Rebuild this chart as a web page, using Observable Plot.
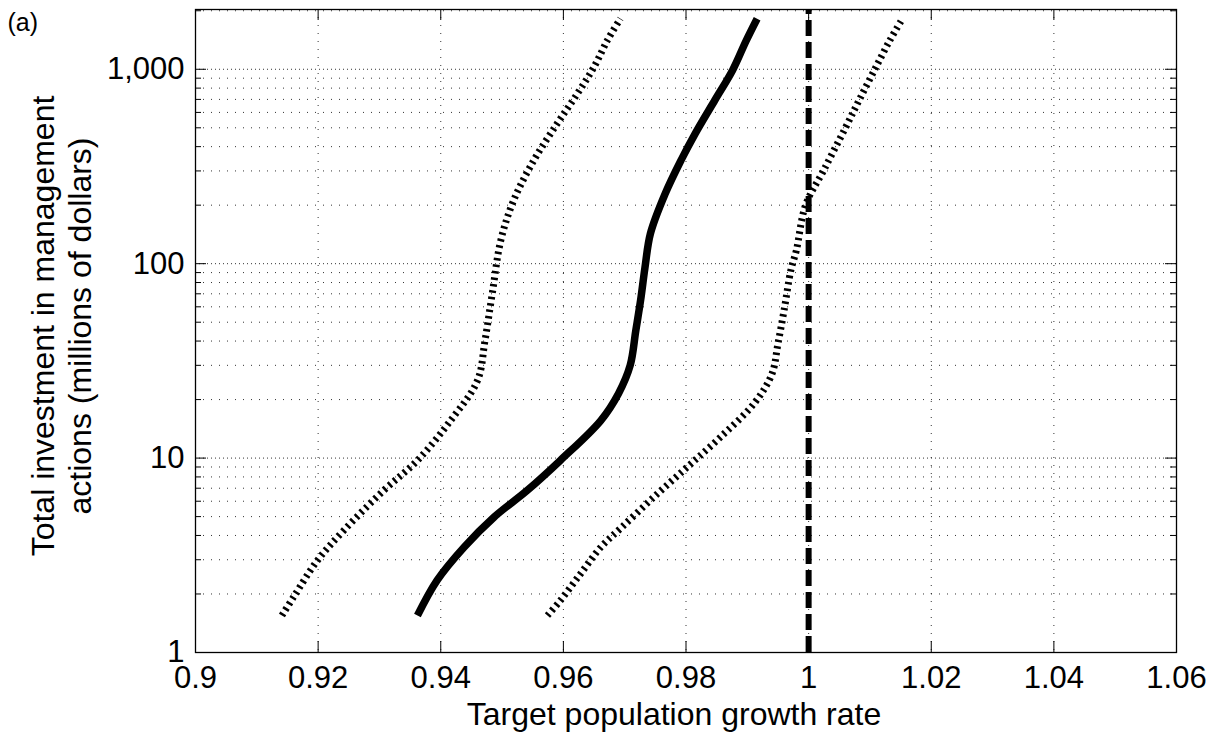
<!DOCTYPE html>
<html>
<head>
<meta charset="utf-8">
<script src="https://cdn.jsdelivr.net/npm/d3@7"></script>
<script src="https://cdn.jsdelivr.net/npm/@observablehq/plot@0.6"></script>
<style>
  html, body { margin: 0; padding: 0; background: #fff; }
  #chart svg { display: block; }
</style>
</head>
<body>
<div id="chart"></div>
<script>
// Axis ticks and labels
const xTicks = [0.9, 0.92, 0.94, 0.96, 0.98, 1, 1.02, 1.04, 1.06];
const yTicks = [1, 10, 100, 1000];
const yMinor = [2, 3, 4, 5, 6, 7, 8, 9, 20, 30, 40, 50, 60, 70, 80, 90, 200, 300, 400, 500, 600, 700, 800, 900, 2000];
const xDomain = [0.9, 1.06];
const yDomain = [1, 2030];

const xTitle = "Target population growth rate";
const yTitle = "Total investment in management\nactions (millions of dollars)";
const panelLabel = "(a)";

// Reference growth rate (stable population)
const referenceRate = [1];

// Central estimate: growth rate reached vs. total investment
const centralRate   = [0.9362, 0.9394, 0.9438, 0.9487, 0.9541, 0.9595, 0.9661, 0.9690, 0.9709, 0.9718, 0.9726, 0.9733, 0.9742, 0.9766, 0.9792, 0.9815, 0.9847, 0.9876, 0.9898, 0.9916];
const centralInvest = [1.55,   2.35,   3.48,   4.97,   6.82,   9.73,   15.6,   21.5,   30,     45,     65,     95,     143,    229,    341,    467,    693,    989,    1400,   1820];

// Lower bound
const lowerRate   = [0.9141, 0.9160, 0.9199, 0.9242, 0.9307, 0.9362, 0.9416, 0.9460, 0.9472, 0.9484, 0.9498, 0.9519, 0.9552, 0.9590, 0.9623, 0.9650, 0.9672, 0.9693];
const lowerInvest = [1.55,   1.93,   2.98,   4.25,   6.82,   9.73,   15.6,   25.1,   40,     70.2,   132,    212,    341,    526,    751,    1028,   1413,   1820];

// Upper bound
const upperRate   = [0.9574, 0.9595, 0.9628, 0.9661, 0.9695, 0.9747, 0.9802, 0.9856, 0.9911, 0.9940, 0.9950, 0.9960, 0.9971, 0.9980, 0.9995, 1.0024, 1.0060, 1.0083, 1.0108, 1.0132, 1.0153];
const upperInvest = [1.55,   1.85,   2.54,   3.48,   4.4,    6.28,   8.99,   12.8,   19.1,   27,     38.8,   57.6,   92.5,   117,    200,    300,    500,    700,    1000,   1400,   1820];

const toRows = (rates, invest) => rates.map((r, i) => ({rate: r, invest: invest[i]}));
const central = toRows(centralRate, centralInvest);
const lower = toRows(lowerRate, lowerInvest);
const upper = toRows(upperRate, upperInvest);

const W = 1221, H = 735;
const mL = 195, mR = 45, mT = 9, mB = 83;
const innerW = W - mL - mR;
const innerH = H - mT - mB;
const majorLen = 11, minorLen = 6;

const xInner = xTicks.slice(1, -1);
const yInner = yTicks.slice(1);
const yMinorIn = yMinor.filter(v => v < yDomain[1]);

const gridStyle = {stroke: "#000", strokeWidth: 1, strokeOpacity: 0.8};
const boundStyle = {x: "rate", y: "invest", curve: "catmull-rom", stroke: "#000", strokeWidth: 7, strokeDasharray: "2.5,4", strokeLinecap: "butt"};

const chart = Plot.plot({
  width: W,
  height: H,
  marginLeft: mL,
  marginRight: mR,
  marginTop: mT,
  marginBottom: mB,
  x: {type: "linear", domain: xDomain},
  y: {type: "log", domain: yDomain},
  style: {
    fontFamily: "'Liberation Sans', Arial, Helvetica, sans-serif",
    fontSize: "31px",
    color: "#000",
    background: "#fff",
    overflow: "visible"
  },
  marks: [
    // dotted grid
    Plot.ruleY(yMinorIn, {...gridStyle, strokeDasharray: "1,7"}),
    Plot.ruleY(yInner, {...gridStyle, strokeDasharray: "1,3"}),
    Plot.ruleX(xInner, {...gridStyle, strokeDasharray: "1,7"}),

    // bounds (thick dotted)
    Plot.line(lower, boundStyle),
    Plot.line(upper, boundStyle),

    // central estimate
    Plot.line(central, {x: "rate", y: "invest", curve: "catmull-rom", stroke: "#000", strokeWidth: 7.5, strokeLinecap: "butt", strokeLinejoin: "round"}),

    // reference growth rate
    Plot.ruleX(referenceRate, {y1: yDomain[0], y2: yDomain[1], stroke: "#000", strokeWidth: 6, strokeDasharray: "16,6"}),

    // inward tick marks on all four sides
    Plot.ruleX(xInner, {insetTop: innerH - majorLen, stroke: "#000"}),
    Plot.ruleX(xInner, {insetBottom: innerH - majorLen, stroke: "#000"}),
    Plot.ruleY(yInner, {insetRight: innerW - majorLen, stroke: "#000"}),
    Plot.ruleY(yInner, {insetLeft: innerW - majorLen, stroke: "#000"}),
    Plot.ruleY(yMinorIn, {insetRight: innerW - minorLen, stroke: "#000"}),
    Plot.ruleY(yMinorIn, {insetLeft: innerW - minorLen, stroke: "#000"}),

    Plot.frame({stroke: "#000", strokeWidth: 1.3}),

    // tick labels
    Plot.axisX({ticks: xTicks, tickSize: 0, tickPadding: 13, tickFormat: d => String(+d.toFixed(2)), label: null}),
    Plot.axisY({ticks: yTicks, tickSize: 0, tickPadding: 11, tickFormat: d3.format(","), label: null}),

    // axis titles
    Plot.text([xTitle], {frameAnchor: "bottom", lineAnchor: "top", dy: 50, dx: -12, fontSize: 32}),
    Plot.text([yTitle], {frameAnchor: "left", textAnchor: "middle", rotate: -90, lineAnchor: "middle", lineHeight: 1.16, dx: -135, dy: -5, fontSize: 32}),

    // panel label
    Plot.text([panelLabel], {frameAnchor: "top-left", textAnchor: "start", lineAnchor: "top", dx: -188, dy: 4, fontSize: 25})
  ]
});

document.getElementById("chart").appendChild(chart);
</script>
</body>
</html>
